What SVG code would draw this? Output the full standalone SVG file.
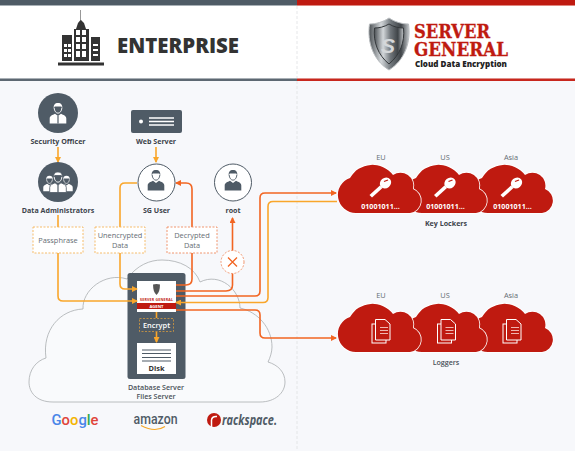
<svg xmlns="http://www.w3.org/2000/svg" width="575" height="451" viewBox="0 0 575 451">
<style>
text{font-family:"Open Sans","Liberation Sans",sans-serif;fill:#3d444b;text-anchor:middle}
.b{font-size:7.100px;font-weight:700}
.n{font-size:7.100px;font-weight:600;fill:#4a5259}
.d{font-size:7.400px;fill:#666d74}
.g{fill:none;stroke:#f9a62b;stroke-width:1.600}
.o{fill:none;stroke:#f26522;stroke-width:1.600}
.dg{fill:#fff;stroke:#f5b55a;stroke-width:.9;stroke-dasharray:2 1.500}
.do{fill:#fff;stroke:#ee8a5f;stroke-width:.9;stroke-dasharray:2 1.500}
.rc{fill:#bf1a10;stroke:#fff;stroke-width:1.600;paint-order:stroke}
.ct{font-size:7.100px;font-weight:700;fill:#fff}
.sg{text-anchor:start;font-family:'DejaVu Serif',serif;font-size:19px;font-weight:700;fill:#bf1a10;stroke:#bf1a10;stroke-width:.35}
</style>
<defs>
<marker id="ag" markerUnits="userSpaceOnUse" markerWidth="6" markerHeight="6" refX="5" refY="3" orient="auto"><path d="M0 0L6 3L0 6Z" fill="#f9a62b"/></marker>
<marker id="ao" markerUnits="userSpaceOnUse" markerWidth="6" markerHeight="6" refX="5" refY="3" orient="auto"><path d="M0 0L6 3L0 6Z" fill="#f26522"/></marker>
<linearGradient id="sh" x1="0" x2="1" y1="0" y2="0"><stop offset="0" stop-color="#4a4f53"/><stop offset=".3" stop-color="#d3d7da"/><stop offset=".55" stop-color="#70767b"/><stop offset=".8" stop-color="#3f4448"/><stop offset="1" stop-color="#c5c9cc"/></linearGradient>
<path id="cloud" d="M18 48H72A12.500 12.500 0 0 0 75 24A13 13 0 0 0 55 10A25.800 25.800 0 0 0 12 13A18 18 0 0 0 18 48Z"/>
<g id="person">
<path d="M-4.200-5.500C-4.800-9-3-11 0-11S4.800-9 4.200-5.500L3.300-7.500C1-7.500-1-7.500-3.300-7.500Z" fill="currentColor"/>
<path d="M-3.800-6C-3.800-3-1.800-.8 0-.8S3.800-3 3.800-6" fill="none" stroke="currentColor" stroke-width=".9"/>
<path d="M-8.300 9.500V4.500C-8.300 2-5.500 1-3-.2L0 2 3-.2C5.500 1 8.300 2 8.300 4.500V9.500Z" fill="currentColor"/>
</g>
<g id="key"><path d="M-9 14.500L-11.500 12L-1 2.500L1.500 5Z" fill="#fff"/><ellipse cx="4.500" cy="0" rx="6" ry="5.200" fill="#fff" transform="rotate(-40 4.500 0)"/><path d="M3-1.500L7-3" stroke="#bf1a10" stroke-width="1.300"/></g>
<g id="doc"><rect x="-9" y="-7" width="14" height="19" fill="#bf1a10" stroke="#fff" stroke-width="1"/><path d="M-5.500-11.500H4L9-7V9H-5.500Z" fill="#bf1a10" stroke="#fff" stroke-width="1"/><path d="M-1-3.500H7M-1-.5H7M-1 2.500H7" stroke="#f0b5b0" stroke-width="1"/></g>
</defs>
<rect width="575" height="451" fill="#f7f8fb"/>
<g id="header">
<rect y="5" width="575" height="73" fill="#fff"/>
<rect width="297" height="5" fill="#4f5b66"/>
<rect x="297" width="278" height="5" fill="#bf1a10"/>
<rect y="5" width="297" height="1" fill="#a8b0b6"/>
<rect x="297" y="5" width="278" height="1" fill="#e0877f"/>
<rect y="78.500" width="297" height="2.500" fill="#5d6872"/>
<rect x="297" y="78.500" width="278" height="2.500" fill="#c8271d"/>
<path d="M297 6V78M297 81V451" stroke="#dfe1e3" stroke-width=".8" stroke-dasharray="3 2"/>
<g id="enterprise-logo" fill="#333">
<rect x="58" y="62.500" width="46" height="3"/>
<path d="M81 10V20L84 23L86 29H89V61H74V29H76L78 23L80.500 20V10Z"/>
<rect x="62" y="35" width="10" height="26"/>
<rect x="91" y="37" width="9" height="24"/>
<path d="M76 30h4v5h-4zM82 30h4v5h-4zM76 37h4v5h-4zM82 37h4v5h-4zM76 44h4v5h-4zM82 44h4v5h-4zM76 51h4v6h-4zM82 51h4v6h-4zM64 44h3v3h-3zM68 44h3v3h-3zM64 49h3v3h-3zM68 49h3v3h-3zM64 54h3v3h-3zM68 54h3v3h-3zM93 44h5v2h-5zM93 49h5v2h-5zM93 54h5v2h-5z" fill="#fff"/>
<text x="178" y="52.500" style="font-size:20.500px;font-weight:800;fill:#333" textLength="122" lengthAdjust="spacingAndGlyphs">ENTERPRISE</text>
</g>
<g id="server-general-logo">
<path d="M389 18C395 22 402 24 408.500 24C411 42 405 60 389 70C373 60 367 42 369.500 24C376 24 383 22 389 18Z" fill="url(#sh)" stroke="#b9bdc0" stroke-width="1"/>
<path d="M389 24C394 27 399 28 403.500 28C405 42 400 55 389 64C378 55 373 42 374.500 28C379 28 384 27 389 24Z" fill="url(#sh)" stroke="#34383b" stroke-width="1"/>
<text x="388" y="53" style="font-size:21px;font-style:italic;font-weight:800;fill:#d5d8da;font-family:'Liberation Sans',sans-serif">S</text>
<text class="sg" x="414" y="38" textLength="76" lengthAdjust="spacingAndGlyphs">SERVER</text>
<text class="sg" x="414" y="56" textLength="94" lengthAdjust="spacingAndGlyphs">GENERAL</text>
<text x="415" y="67" style="text-anchor:start;font-size:8.500px;font-weight:800;fill:#222" textLength="92" lengthAdjust="spacingAndGlyphs">Cloud Data Encryption</text>
</g>
</g>
<g id="cloud-provider">
<path d="M53 402C36 402 29 392 29 382C29 370 36 361 46 358C42 330 60 310 83 309C82 290 105 272 127 279C137 265 150 260 162 260C180 260 195 268 200 282C220 272 240 290 240 308C258 312 272 328 272 347C272 352 270 358 268 362C278 365 285 372 285 382C285 393 275 402 260 402Z" fill="#f9fafc" stroke="#a9adb0" stroke-width=".8"/>
</g>
<g id="database-server">
<rect x="127.500" y="273" width="58" height="106" rx="2.500" fill="#4f5b66"/>
<g id="agent"><rect x="137" y="281" width="39" height="31" fill="#fff"/><rect x="137" y="303" width="39" height="6" fill="#bf1a10"/><path d="M153 284.500Q156.500 283.500 160 284.500Q160 292 156.500 295Q153 292 153 284.500Z" fill="#555"/><text x="156.500" y="300.500" style="font-size:3.600px;font-weight:700;fill:#bf1a10" textLength="33">SERVER GENERAL</text><text x="156.500" y="307.700" style="font-size:4.200px;font-weight:700;fill:#fff">AGENT</text></g>
<g id="encrypt"><rect x="139.500" y="318.500" width="34" height="13" fill="none" stroke="#d59a3f" stroke-width=".8" stroke-dasharray="2 1.500"/><text x="156.500" y="327.800" style="font-size:7.400px;font-weight:600;fill:#fff">Encrypt</text></g>
<g id="disk"><rect x="137" y="343" width="39" height="31" fill="#fff"/><path d="M142 350H171M142 353.500H171M142 357.500H171M142 361H171" stroke="#4f5b66" stroke-width="1.200"/><text x="156.500" y="370.500" style="font-size:7.400px;font-weight:700;fill:#333">Disk</text></g>
<text class="n" x="156" y="389.500">Database Server</text><text class="n" x="156" y="399">Files Server</text>
</g>
<g id="connectors">
<path class="g" d="M58 147V162" marker-end="url(#ag)"/>
<path class="g" d="M156 147V162" marker-end="url(#ag)"/>
<path class="g" d="M58 215V296Q58 301 63 301H137" marker-end="url(#ag)"/>
<path class="g" d="M137 183H125Q120 183 120 188V284Q120 289 125 289H137" marker-end="url(#ag)"/>
<path class="o" d="M176 285H186Q192 285 192 279V189Q192 183 186 183H176" marker-end="url(#ao)"/>
<path class="o" d="M176 291H226Q232.500 291 232.500 285V218" marker-end="url(#ao)"/>
<path class="o" d="M176 296H255Q260 296 260 291V198Q260 193 265 193H336" marker-end="url(#ao)"/>
<path class="g" d="M337 201.500H273Q268 201.500 268 206.500V297.500Q268 302.500 263 302.500H176" marker-end="url(#ag)"/>
<path class="o" d="M176 310H255Q260 310 260 315V333Q260 338 265 338H336" marker-end="url(#ao)"/>
<path class="g" d="M156.500 312V318M156.500 332V342" marker-end="url(#ag)"/>
</g>
<g id="passphrase"><rect class="dg" x="33" y="227" width="50" height="26"/><text class="d" x="58" y="242.500">Passphrase</text></g>
<g id="unencrypted-data"><rect class="dg" x="95" y="227" width="50" height="26"/><text class="d" x="120" y="238">Unencrypted</text><text class="d" x="120" y="248">Data</text></g>
<g id="decrypted-data"><rect class="do" x="167" y="227" width="50" height="26"/><text class="d" x="192" y="238">Decrypted</text><text class="d" x="192" y="248">Data</text></g>
<g id="blocked"><circle class="do" cx="232.500" cy="262" r="11.500"/><path d="M228 257.500L237 266.500M237 257.500L228 266.500" stroke="#f26522" stroke-width="1.300"/></g>
<g id="security-officer"><circle cx="58" cy="113" r="20" fill="#4f5b66"/><use href="#person" x="58" y="114" color="#fff"/><path d="M58 116V123.500" stroke="#4f5b66" stroke-width="1.200"/><text class="b" x="58" y="144">Security Officer</text></g>
<g id="data-administrators"><circle cx="58" cy="182" r="20" fill="#4f5b66"/><use href="#person" transform="translate(49.500 184) scale(.75)" color="#fff"/><use href="#person" transform="translate(66.500 184) scale(.75)" color="#fff"/><use href="#person" x="58" y="183" color="#fff" stroke="#4f5b66" stroke-width=".8"/><path d="M58 185V192.500" stroke="#4f5b66" stroke-width="1.200"/><text class="b" x="58" y="212.500">Data Administrators</text></g>
<g id="web-server"><rect x="131" y="110" width="51" height="23" rx="2" fill="#4f5b66"/><circle cx="141" cy="121.500" r="2" fill="#fff"/><path d="M149 118H174M149 121.500H174M149 125H174" stroke="#fff" stroke-width="1.300"/><text class="b" x="156" y="144">Web Server</text></g>
<g id="sg-user"><circle cx="156.500" cy="182.500" r="18.500" fill="#fff" stroke="#4f5b66" stroke-width="1"/><use href="#person" x="156" y="181" color="#4f5b66"/><text class="b" x="156.500" y="212.500">SG User</text></g>
<g id="root"><circle cx="233" cy="182.500" r="18.500" fill="#fff" stroke="#4f5b66" stroke-width="1"/><use href="#person" x="233" y="181" color="#4f5b66"/><text class="b" x="233" y="212.500">root</text></g>
<g id="key-lockers">
<g id="kl-asia"><use href="#cloud" class="rc" x="470" y="165"/><use href="#key" x="512" y="183"/><text class="ct" x="512.500" y="208.500">01001011...</text><text class="d" x="511" y="160">Asia</text></g>
<g id="kl-us"><use href="#cloud" class="rc" x="404" y="165"/><use href="#key" x="445.500" y="183"/><text class="ct" x="445.500" y="208.500">01001011...</text><text class="d" x="445" y="160">US</text></g>
<g id="kl-eu"><use href="#cloud" class="rc" x="338" y="165"/><use href="#key" x="381" y="183"/><text class="ct" x="380.500" y="208.500">01001011...</text><text class="d" x="381" y="160">EU</text></g>
<text class="b" x="446" y="226">Key Lockers</text>
</g>
<g id="loggers">
<g id="lg-asia"><use href="#cloud" class="rc" x="470" y="304"/><use href="#doc" x="512" y="331"/><text class="d" x="511" y="298">Asia</text></g>
<g id="lg-us"><use href="#cloud" class="rc" x="404" y="304"/><use href="#doc" x="446.500" y="331"/><text class="d" x="445" y="298">US</text></g>
<g id="lg-eu"><use href="#cloud" class="rc" x="338" y="304"/><use href="#doc" x="381" y="331"/><text class="d" x="381" y="298">EU</text></g>
<text class="n" x="446" y="364.500">Loggers</text>
</g>
<g id="providers">
<text x="75" y="425" style="font-size:14.800px;font-family:'Roboto','Liberation Sans',sans-serif;font-weight:500"><tspan fill="#4a86e8">G</tspan><tspan fill="#e0443a">o</tspan><tspan fill="#f4b400">o</tspan><tspan fill="#4a86e8">g</tspan><tspan fill="#34a853">l</tspan><tspan fill="#e0443a">e</tspan></text>
<text x="155.500" y="424" style="font-size:14px;font-family:'Roboto','Liberation Sans',sans-serif;font-weight:500;fill:#4f5b66" textLength="44" lengthAdjust="spacingAndGlyphs">amazon</text>
<path d="M141 425.500Q155 433 165 426.500" fill="none" stroke="#f5a623" stroke-width="1.200"/>
<circle cx="214" cy="420" r="7" fill="#bf1a10"/><path d="M211.500 427.500V420Q212 416 217 416.500" fill="none" stroke="#fff" stroke-width="1.500"/>
<text x="249.500" y="424.500" style="font-size:14px;font-style:italic;font-weight:700;fill:#4f5b66" textLength="55" lengthAdjust="spacingAndGlyphs">rackspace.</text>
</g>
</svg>
